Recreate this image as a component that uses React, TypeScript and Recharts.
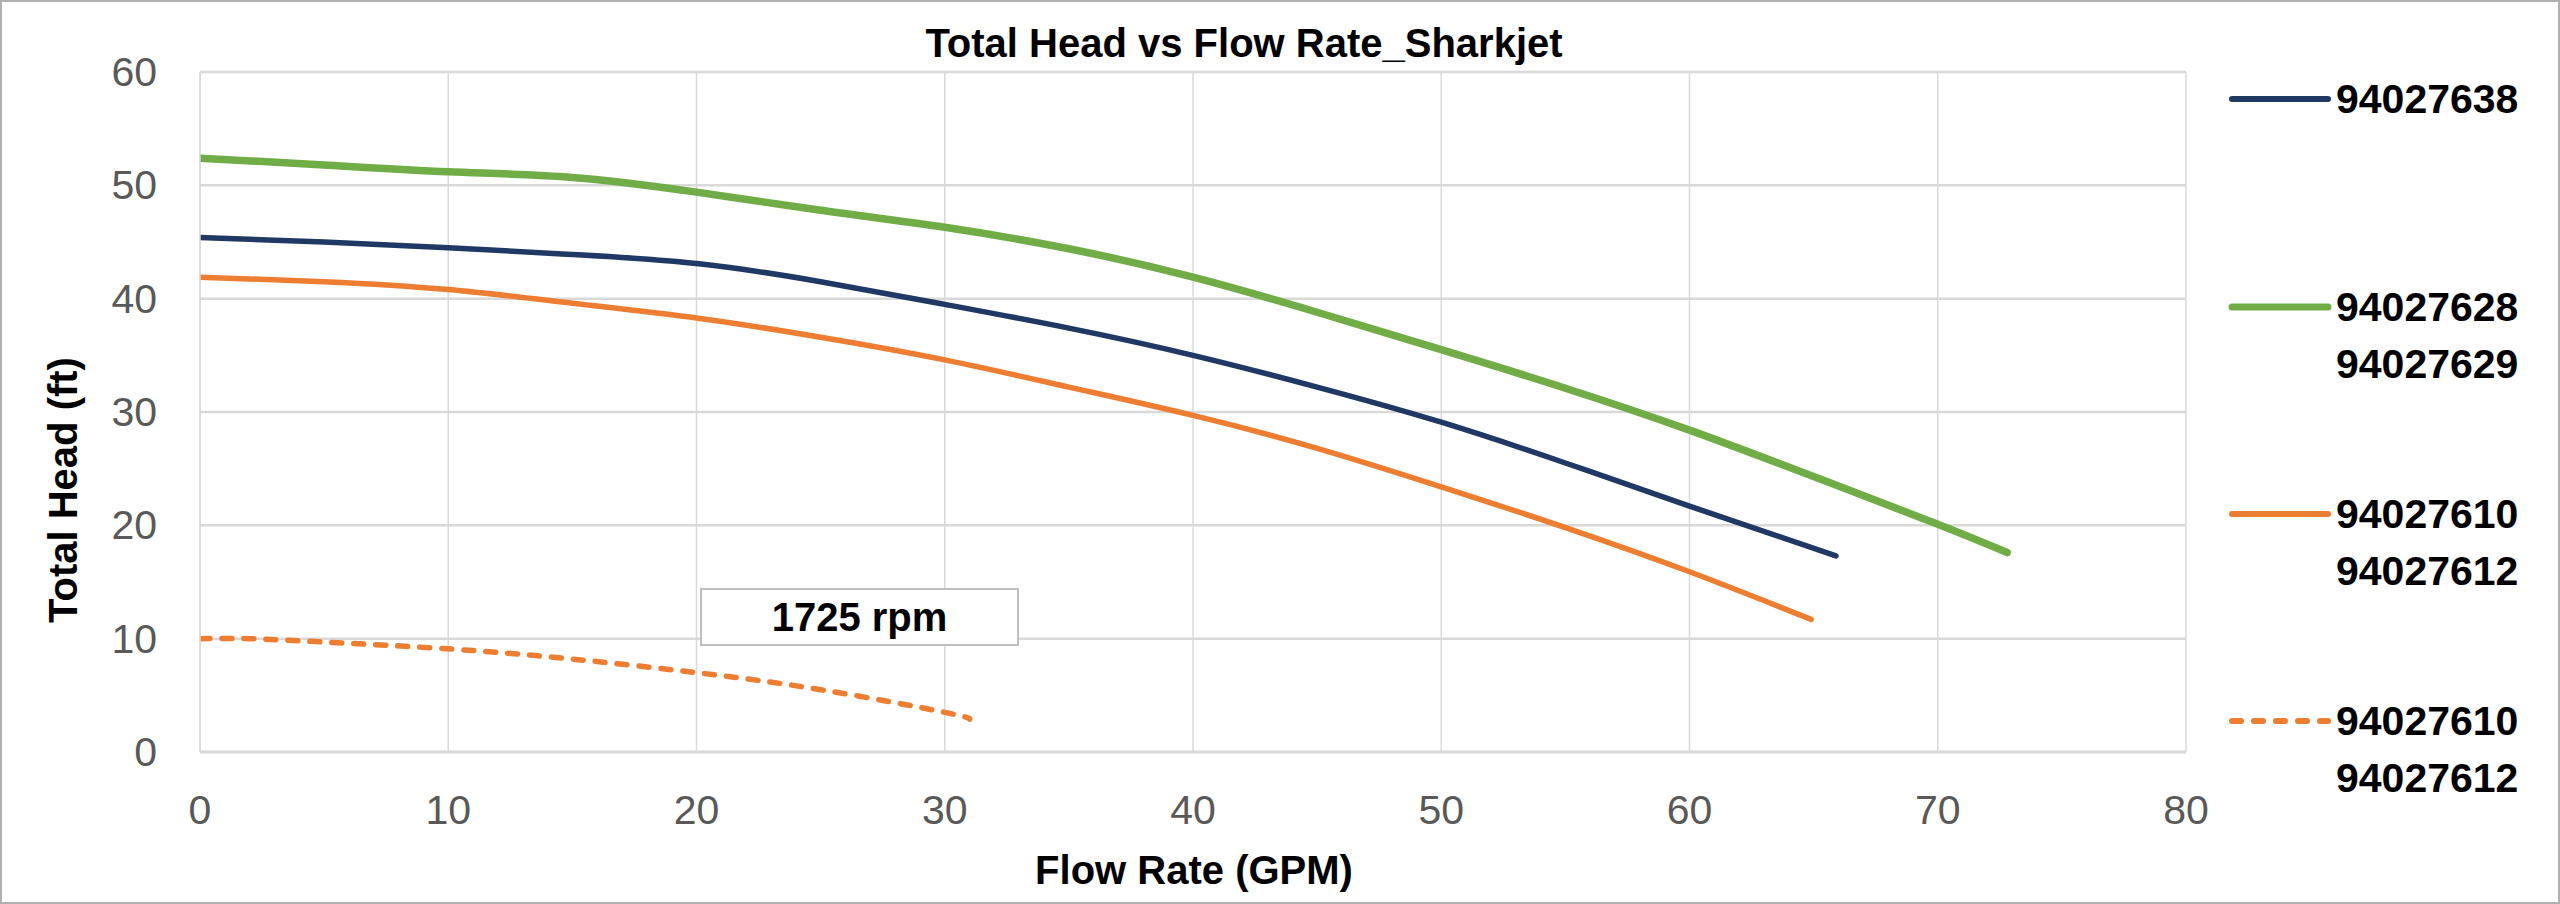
import { LineChart, Line, CartesianGrid, XAxis, YAxis, Legend } from 'recharts';

const flowTicks = [0, 10, 20, 30, 40, 50, 60, 70, 80];
const headTicks = [0, 10, 20, 30, 40, 50, 60];

// 94027638
const flow638 = [0, 5, 10, 15, 20, 25, 30, 35, 40, 45, 50, 55, 60, 65.9];
const head638 = [45.4, 45.0, 44.5, 43.9, 43.1, 41.5, 39.5, 37.4, 35.0, 32.2, 29.1, 25.5, 21.7, 17.3];

// 94027628 / 94027629
const flow628 = [0, 5, 10, 15, 20, 25, 30, 35, 40, 45, 50, 55, 60, 65, 70, 72.8];
const head628 = [52.4, 51.8, 51.2, 50.7, 49.4, 47.8, 46.3, 44.4, 41.9, 38.8, 35.5, 32.1, 28.4, 24.3, 20.1, 17.6];

// 94027610 / 94027612
const flow610 = [0, 5, 10, 15, 20, 25, 30, 35, 40, 45, 50, 55, 60, 64.9];
const head610 = [41.9, 41.5, 40.8, 39.6, 38.3, 36.6, 34.6, 32.2, 29.7, 26.8, 23.4, 19.8, 15.9, 11.7];

// 94027610 / 94027612 at 1725 rpm
const flow610Low = [0, 2, 5, 10, 15, 20, 25, 30, 31];
const head610Low = [10.0, 10.0, 9.7, 9.1, 8.2, 7.0, 5.5, 3.5, 2.9];

const seriesNames = ['94027638', '94027628\n94027629', '94027610\n94027612', '94027610\n94027612'];
const seriesColors = ['#203864', '#70AD47', '#ED7D31', '#ED7D31'];

const toPoints = (q: number[], h: number[]) => q.map((v, i) => ({ q: v, h: h[i] }));

const FONT = '"Liberation Sans", Arial, sans-serif';

const XTick = (p: any) => (
  <text x={p.x} y={810} textAnchor="middle" dominantBaseline="central" fontSize={41} fontFamily={FONT} fill="#595959">
    {p.payload.value}
  </text>
);

const YTick = (p: any) => (
  <text x={157} y={p.y} textAnchor="end" dominantBaseline="central" fontSize={41} fontFamily={FONT} fill="#595959">
    {p.payload.value}
  </text>
);

const legendTops = [99, 307, 514, 721];

const renderLegend = () => (
  <div style={{ position: 'relative', width: 340, height: 860, fontFamily: FONT }}>
    {seriesNames.map((name, i) => (
      <div key={i}>
        <svg style={{ position: 'absolute', left: 8, top: legendTops[i] - 6 }} width={104} height={12}>
          <line
            x1={4}
            x2={100}
            y1={6}
            y2={6}
            stroke={seriesColors[i]}
            strokeWidth={i === 1 ? 7 : 6}
            strokeLinecap="round"
            strokeDasharray={i === 3 ? '9 13' : undefined}
          />
        </svg>
        <div
          style={{
            position: 'absolute',
            left: 116,
            top: legendTops[i] - 28.5,
            fontSize: 41,
            fontWeight: 700,
            lineHeight: '57px',
            color: '#000',
            whiteSpace: 'pre',
          }}
        >
          {name}
        </div>
      </div>
    ))}
  </div>
);

export default function App() {
  return (
    <div
      style={{
        position: 'absolute',
        left: 0,
        top: 0,
        width: 2560,
        height: 904,
        background: '#fff',
        boxSizing: 'border-box',
        border: '2px solid #b0b0b0',
        overflow: 'hidden',
        fontFamily: FONT,
      }}
    >
      <div style={{ position: 'absolute', left: -2, top: -2 }}>
        <LineChart width={2560} height={904} margin={{ top: 72, right: 374, left: 0, bottom: 0 }}>
          <CartesianGrid horizontal={false} stroke="#d9d9d9" strokeWidth={1.5} />
          <CartesianGrid vertical={false} stroke="#d9d9d9" strokeWidth={2.5} />
          <XAxis
            dataKey="q"
            type="number"
            domain={[0, 80]}
            ticks={flowTicks}
            height={152}
            tickLine={false}
            axisLine={{ stroke: '#d9d9d9', strokeWidth: 3 }}
            tick={XTick}
            allowDataOverflow
          />
          <YAxis
            type="number"
            domain={[0, 60]}
            ticks={headTicks}
            width={200}
            tickLine={false}
            axisLine={{ stroke: '#d9d9d9', strokeWidth: 1.5 }}
            tick={YTick}
            allowDataOverflow
          />
          <Legend
            content={renderLegend}
            layout="horizontal"
            verticalAlign="middle"
            align="center"
            wrapperStyle={{ left: 2220, top: 0, width: 340, height: 860 }}
          />
          <Line
            data={toPoints(flow638, head638)}
            dataKey="h"
            name={seriesNames[0]}
            type="natural"
            stroke={seriesColors[0]}
            strokeWidth={5.5}
            strokeLinecap="round"
            dot={false}
            isAnimationActive={false}
          />
          <Line
            data={toPoints(flow628, head628)}
            dataKey="h"
            name={seriesNames[1]}
            type="natural"
            stroke={seriesColors[1]}
            strokeWidth={7.5}
            strokeLinecap="round"
            dot={false}
            isAnimationActive={false}
          />
          <Line
            data={toPoints(flow610, head610)}
            dataKey="h"
            name={seriesNames[2]}
            type="natural"
            stroke={seriesColors[2]}
            strokeWidth={5.5}
            strokeLinecap="round"
            dot={false}
            isAnimationActive={false}
          />
          <Line
            data={toPoints(flow610Low, head610Low)}
            dataKey="h"
            name={seriesNames[3]}
            type="natural"
            stroke={seriesColors[3]}
            strokeWidth={5.5}
            strokeDasharray="10 12"
            strokeLinecap="round"
            dot={false}
            isAnimationActive={false}
          />
          <text x={1244} y={57} textAnchor="middle" fontSize={40} fontWeight={700} fontFamily={FONT} fill="#000">
            Total Head vs Flow Rate_Sharkjet
          </text>
          <text x={1194} y={884} textAnchor="middle" fontSize={40} fontWeight={700} fontFamily={FONT} fill="#000">
            Flow Rate (GPM)
          </text>
          <text
            x={77}
            y={490}
            textAnchor="middle"
            fontSize={40}
            fontWeight={700}
            fontFamily={FONT}
            fill="#000"
            transform="rotate(-90, 77, 490)"
          >
            Total Head (ft)
          </text>
        </LineChart>
      </div>
      <div
        style={{
          position: 'absolute',
          left: 698,
          top: 586,
          width: 319,
          height: 58,
          boxSizing: 'border-box',
          border: '2px solid #bfbfbf',
          background: '#fff',
          display: 'flex',
          alignItems: 'center',
          justifyContent: 'center',
          fontSize: 40,
          fontWeight: 700,
          color: '#000',
        }}
      >
        1725 rpm
      </div>
    </div>
  );
}
